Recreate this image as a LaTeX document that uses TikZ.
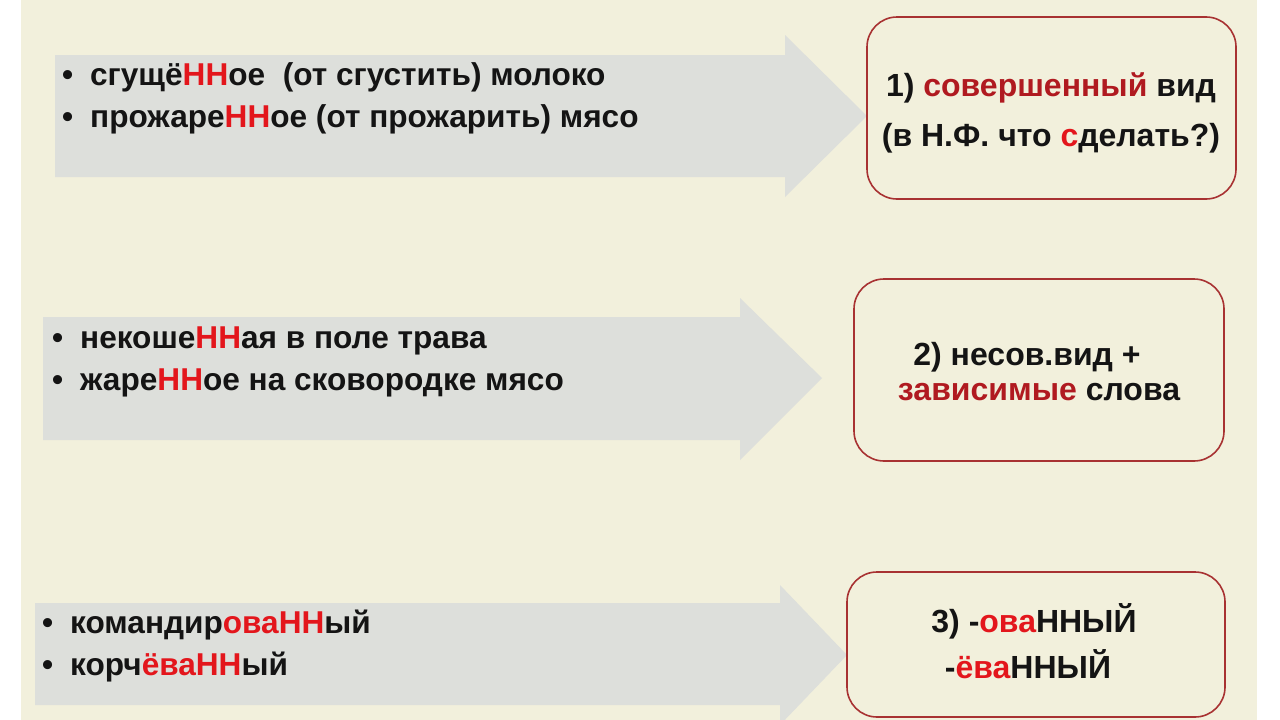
\documentclass[tikz,border=0pt]{standalone}
\usepackage{fontspec}
\setmainfont{Liberation Sans}
\definecolor{cream}{HTML}{F2F0DC}
\definecolor{arrowgray}{HTML}{DDDFDB}
\definecolor{brightred}{HTML}{E3161C}
\definecolor{darkred}{HTML}{B01A20}
\definecolor{boxline}{HTML}{A83232}
\definecolor{textblack}{HTML}{141414}
\newcommand{\hr}[1]{\textcolor{brightred}{#1}}
\newcommand{\dr}[1]{\textcolor{darkred}{#1}}
\tikzset{
  rowtext/.style={anchor=base west, inner sep=0pt, text=textblack,
    font=\fontsize{31.6}{37}\selectfont\bfseries},
  boxtext/.style={anchor=base, inner sep=0pt, text=textblack,
    font=\fontsize{32}{38}\selectfont\bfseries},
  rbox/.style={draw=boxline, line width=1.6pt, rounded corners=30pt, inner sep=0pt},
  blockarrow/.style={fill=arrowgray, draw=none}
}
\begin{document}
\begin{tikzpicture}[x=1pt,y=-1pt]
\useasboundingbox (0,0) rectangle (1280,720);
\fill[white] (0,0) rectangle (1280,720);
\fill[cream] (21,0) rectangle (1257,720);
% block arrows
\fill[blockarrow] (55,55) -- (785,55) -- (785,35) -- (867,116) -- (785,197) -- (785,177) -- (55,177) -- cycle;
\fill[blockarrow] (43,317) -- (740,317) -- (740,298) -- (822,378) -- (740,460) -- (740,440) -- (43,440) -- cycle;
\fill[blockarrow] (35,603) -- (780,603) -- (780,585) -- (847,655) -- (780,725) -- (780,705) -- (35,705) -- cycle;
% boxes
\draw[rbox] (867,17) rectangle (1236,199);
\draw[rbox] (854,279) rectangle (1224,461);
\draw[rbox] (847,572) rectangle (1225,717);
% row texts
\node[rowtext] (r1a) at (62,85) {\makebox[28pt][l]{•}сгущё\hr{НН}ое\ \ (от сгустить) молоко};
\node[rowtext] (r1b) at (62,127) {\makebox[28pt][l]{•}прожаре\hr{НН}ое (от прожарить) мясо};
\node[rowtext] (r2a) at (52,348) {\makebox[28pt][l]{•}некоше\hr{НН}ая в поле трава};
\node[rowtext] (r2b) at (52,390) {\makebox[28pt][l]{•}жаре\hr{НН}ое на сковородке мясо};
\node[rowtext] (r3a) at (42,633) {\makebox[28pt][l]{•}командир\hr{оваНН}ый};
\node[rowtext] (r3b) at (42,675) {\makebox[28pt][l]{•}корч\hr{ёваНН}ый};
% box texts
\node[boxtext] (t1a) at (1051,96) {1) \dr{совершенный} вид};
\node[boxtext] (t1b) at (1051,146) {(в Н.Ф. что \hr{с}делать?)};
\node[boxtext] (t2a) at (1027,365) {2) несов.вид +};
\node[boxtext] (t2b) at (1039,400) {\dr{зависимые} слова};
\node[boxtext] (t3a) at (1034,632) {3) -\hr{ова}ННЫЙ};
\node[boxtext] (t3b) at (1028,678) {-\hr{ёва}ННЫЙ};
\end{tikzpicture}
\end{document}
